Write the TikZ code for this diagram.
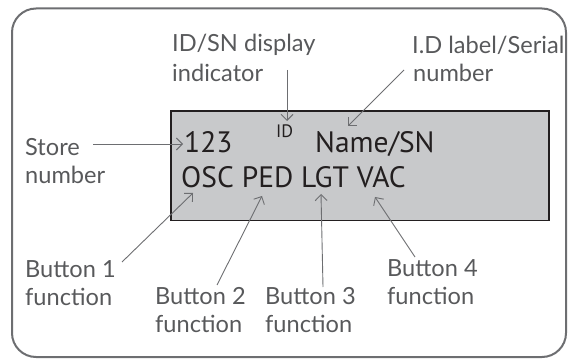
\documentclass[tikz,border=0pt]{standalone}
\usepackage{fontspec}
\usetikzlibrary{arrows.meta}
\newfontfamily\labelfont{Lato}
\newfontfamily\lcdfont{PT Sans}
\definecolor{lblgray}{HTML}{58595B}
\definecolor{linegray}{HTML}{6D6E71}
\definecolor{lcdfill}{HTML}{C8C9CB}
\definecolor{lcdink}{HTML}{231F20}
\tikzset{
  lbl/.style={anchor=base west, inner sep=0pt, text=lblgray, font=\labelfont\fontsize{23.6}{28}\selectfont},
  lcd/.style={anchor=base west, inner sep=0pt, text=lcdink, font=\lcdfont\fontsize{29.5}{30}\selectfont},
  lcdsmall/.style={anchor=base west, inner sep=0pt, text=lcdink, font=\lcdfont\fontsize{18}{18}\selectfont},
  leader/.style={draw=linegray, line width=0.9pt, -{Straight Barb[length=6pt,width=12pt,line width=0.9pt]}},
}
\begin{document}
\begin{tikzpicture}[x=1pt,y=-1pt]
\useasboundingbox (0,0) rectangle (569,363);
% outer frame
\draw[linegray, line width=2pt, rounded corners=24pt] (12,8.5) rectangle (566,357);
% display
\draw[lcdink, fill=lcdfill, line width=1.4pt] (171,111) rectangle (549,220.5);
% display texts
\node[lcd] (num) at (184,153) {123};
\node[lcdsmall] (idind) at (276,138) {ID};
\node[lcd] (name) at (315,153) {Name/SN};
\node[lcd] (funcs) at (181,188) {OSC PED LGT VAC};
% labels
\node[lbl] (idsnA) at (172,52) {ID/SN display};
\node[lbl] (idsnB) at (172,82) {indicator};
\node[lbl] (serA) at (412,54) {I.D label/Serial};
\node[lbl] (serB) at (413,82) {number};
\node[lbl] (stA) at (25,156) {Store};
\node[lbl] (stB) at (25,184) {number};
\node[lbl] (b1A) at (25,277) {Button 1};
\node[lbl] (b1B) at (25,305) {function};
\node[lbl] (b2A) at (155,304) {Button 2};
\node[lbl] (b2B) at (155,332) {function};
\node[lbl] (b3A) at (265,304) {Button 3};
\node[lbl] (b3B) at (265,332) {function};
\node[lbl] (b4A) at (387,276) {Button 4};
\node[lbl] (b4B) at (387,304) {function};
% leader end points
\coordinate (idsnS) at (287,70);   \coordinate (idsnT) at (287,121);
\coordinate (serS) at (404,70);    \coordinate (serT) at (348,126);
\coordinate (stS) at (93,144);     \coordinate (stT) at (183,144);
\coordinate (b1S) at (122,262);    \coordinate (b1T) at (193,193);
\coordinate (b2S) at (217,285);    \coordinate (b2T) at (262,196);
\coordinate (b3S) at (323,287);    \coordinate (b3T) at (321,194);
\coordinate (b4S) at (415,257);    \coordinate (b4T) at (375,197);
\draw[leader] (idsnS) -- (idsnT);
\draw[leader] (serS) -- (serT);
\draw[leader] (stS) -- (stT);
\draw[leader] (b1S) -- (b1T);
\draw[leader] (b2S) -- (b2T);
\draw[leader] (b3S) -- (b3T);
\draw[leader] (b4S) -- (b4T);
\end{tikzpicture}
\end{document}
